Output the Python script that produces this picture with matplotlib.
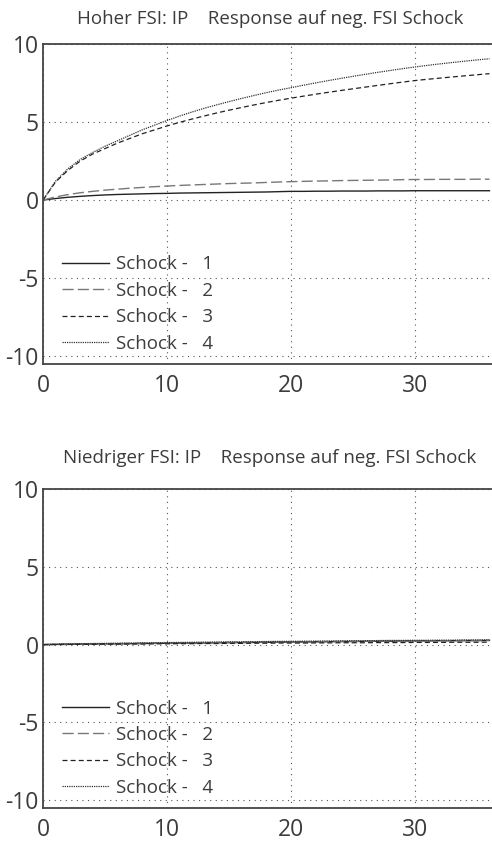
import matplotlib
matplotlib.use("Agg")
import matplotlib.pyplot as plt

t = list(range(0, 37))

hoch_s1 = [0, 0.10, 0.18, 0.24, 0.29, 0.33, 0.36, 0.38, 0.40, 0.42, 0.43, 0.45, 0.46, 0.47, 0.48, 0.49,
           0.50, 0.51, 0.52, 0.54, 0.56, 0.56, 0.57, 0.57, 0.58, 0.58, 0.58, 0.59, 0.59, 0.59, 0.60,
           0.60, 0.60, 0.60, 0.60, 0.60, 0.60]
hoch_s2 = [0, 0.20, 0.35, 0.47, 0.56, 0.64, 0.70, 0.76, 0.81, 0.86, 0.90, 0.94, 0.97, 1.00, 1.03, 1.06,
           1.08, 1.10, 1.13, 1.16, 1.18, 1.20, 1.22, 1.23, 1.25, 1.26, 1.27, 1.28, 1.29, 1.31, 1.32,
           1.32, 1.33, 1.33, 1.33, 1.34, 1.34]
hoch_s3 = [0, 1.15, 1.90, 2.50, 2.95, 3.30, 3.65, 3.95, 4.25, 4.50, 4.75, 4.98, 5.19, 5.39, 5.58, 5.76,
           5.93, 6.095, 6.25, 6.395, 6.53, 6.66, 6.785, 6.905, 7.02, 7.13, 7.24, 7.35, 7.455, 7.56, 7.66,
           7.74, 7.815, 7.89, 7.96, 8.03, 8.10]
hoch_s4 = [0, 1.20, 2.00, 2.60, 3.05, 3.45, 3.80, 4.15, 4.50, 4.80, 5.10, 5.38, 5.64, 5.88, 6.10, 6.31,
           6.51, 6.70, 6.88, 7.05, 7.20, 7.36, 7.51, 7.655, 7.795, 7.93, 8.06, 8.185, 8.305, 8.42, 8.53,
           8.63, 8.725, 8.815, 8.90, 8.98, 9.055]

nied_s1 = [0, 0.01, 0.02, 0.03, 0.04, 0.05, 0.05, 0.06, 0.07, 0.08, 0.09, 0.10, 0.10, 0.11, 0.12, 0.13,
           0.13, 0.14, 0.15, 0.16, 0.17, 0.17, 0.18, 0.19, 0.20, 0.20, 0.21, 0.22, 0.22, 0.23, 0.24,
           0.24, 0.25, 0.25, 0.26, 0.26, 0.27]
nied_s2 = [0, 0.02, 0.03, 0.04, 0.05, 0.06, 0.07, 0.08, 0.09, 0.09, 0.10, 0.11, 0.12, 0.13, 0.13, 0.14,
           0.15, 0.16, 0.16, 0.17, 0.18, 0.18, 0.19, 0.20, 0.20, 0.21, 0.22, 0.22, 0.23, 0.23, 0.24,
           0.24, 0.25, 0.25, 0.26, 0.26, 0.27]
nied_s3 = [0, 0.01, 0.01, 0.02, 0.02, 0.03, 0.03, 0.04, 0.04, 0.05, 0.05, 0.06, 0.06, 0.07, 0.07, 0.08,
           0.08, 0.09, 0.09, 0.10, 0.10, 0.10, 0.11, 0.11, 0.12, 0.12, 0.12, 0.13, 0.13, 0.13, 0.14,
           0.14, 0.14, 0.15, 0.15, 0.15, 0.16]
nied_s4 = [0, 0.03, 0.05, 0.06, 0.07, 0.08, 0.09, 0.10, 0.11, 0.12, 0.13, 0.14, 0.15, 0.16, 0.17, 0.18,
           0.18, 0.19, 0.20, 0.21, 0.21, 0.22, 0.23, 0.23, 0.24, 0.25, 0.25, 0.26, 0.27, 0.27, 0.28,
           0.28, 0.29, 0.29, 0.30, 0.30, 0.31]

labels = ["Schock -   1", "Schock -   2", "Schock -   3", "Schock -   4"]
titles = ["Hoher FSI: IP    Response auf neg. FSI Schock",
          "Niedriger FSI: IP    Response auf neg. FSI Schock"]
xticks = [0, 10, 20, 30]
yticks = [-10, -5, 0, 5, 10]

plt.rcParams['font.family'] = ['Open Sans', 'DejaVu Sans']
plt.rcParams['axes.unicode_minus'] = False
TXT = '#3c3c3c'

styles = [
    dict(color='#222222', linestyle='-', linewidth=1.0),
    dict(color='#777777', linestyle=(0, (8, 3)), linewidth=1.0),
    dict(color='#222222', linestyle=(0, (4, 2.5)), linewidth=0.9),
    dict(color='#333333', linestyle=(0, (1, 0.8)), linewidth=0.9),
]

fig = plt.figure(figsize=(4.92, 8.41), dpi=100)
W, H = 492, 841
boxes = [(43, 44, 364), (43, 489, 808)]
data = [[hoch_s1, hoch_s2, hoch_s3, hoch_s4], [nied_s1, nied_s2, nied_s3, nied_s4]]
title_y = [19, 458]

for (left, top, bot), series, title, ty in zip(boxes, data, titles, title_y):
    ax = fig.add_axes([left / W, 1 - bot / H, 1 - left / W + 0.01, (bot - top) / H])
    for s, lab, st in zip(series, labels, styles):
        ax.plot(t, s, label=lab, **st)
    ax.set_xlim(0, 36.6)
    ax.set_ylim(-10.5, 10)
    ax.set_xticks(xticks)
    ax.set_yticks(yticks)
    ax.grid(True, linestyle=(0, (1, 4)), color='#555555', linewidth=0.8)
    ax.tick_params(length=0, labelsize=16.5, colors=TXT)
    ax.tick_params(axis='x', pad=7)
    ax.tick_params(axis='y', pad=3)
    for sp in ['left', 'bottom', 'top']:
        ax.spines[sp].set_color('#444444')
        ax.spines[sp].set_linewidth(1.3)
    ax.spines['right'].set_visible(False)
    leg = ax.legend(loc='upper left', bbox_to_anchor=(0.042, 0.34), frameon=False,
                    fontsize=13.5, handlelength=2.5, handletextpad=0.35, labelspacing=0.45,
                    borderpad=0, borderaxespad=0)
    for tx in leg.get_texts():
        tx.set_color(TXT)
    fig.text(270 / W, 1 - ty / H, title, ha='center', va='center', fontsize=13.5, color=TXT)

fig.savefig('out.png', dpi=100)
